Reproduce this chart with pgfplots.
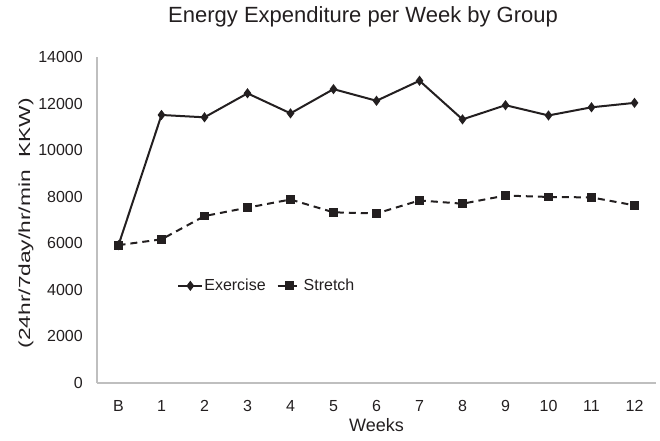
\documentclass[border=0pt]{standalone}
\usepackage{pgfplots}
\pgfplotsset{compat=1.18}
\usepackage{fontspec}
\setmainfont{Liberation Sans}
\newfontfamily\ylabfont[FakeStretch=1.42]{Liberation Sans}
\definecolor{ink}{RGB}{35,31,32}
\begin{document}
\begin{tikzpicture}
\begin{axis}[
  scale only axis,
  width=559pt, height=326pt,
  xmin=-0.5, xmax=12.5,
  ymin=0, ymax=14000,
  xtick={0,...,12},
  xticklabels={B,1,2,3,4,5,6,7,8,9,10,11,12},
  ytick={0,2000,...,14000},
  scaled y ticks=false,
  axis x line*=bottom, axis y line*=left,
  axis line style={draw=black!25, line width=1.2pt, -},
  major tick length=0pt,
  tick style={draw=none},
  /pgf/number format/assume math mode=true,
  /pgf/number format/1000 sep={},
  ticklabel style={font=\fontsize{16}{18}\selectfont, text=ink, inner sep=0pt},
  yticklabel style={anchor=east, xshift=-14pt},
  xticklabel style={anchor=center, yshift=-23pt},
  xlabel={Weeks},
  xlabel style={font=\fontsize{18}{20}\selectfont, text=ink, at={(axis description cs:0.5,0)}, anchor=center, yshift=-42pt},
  ylabel={(24hr/7day/hr/min\ \ KKW)},
  ylabel style={font=\ylabfont\fontsize{16}{18}\selectfont, text=ink, at={(axis description cs:0,0.49)}, anchor=center, yshift=71pt},
  title={Energy Expenditure per Week by Group},
  title style={font=\fontsize{22}{24}\selectfont, text=ink, at={(axis description cs:0.476,1)}, anchor=center, yshift=34pt},
  legend style={draw=none, fill=none, at={(0.303,0.298)}, anchor=center,
    legend columns=2, font=\fontsize{16}{18}\selectfont, text=ink,
    /tikz/every odd column/.append style={column sep=0pt},
    /tikz/every even column/.append style={column sep=10pt},
    nodes={inner sep=1pt}},
  legend image code/.code={
    \draw[#1, mark repeat=2, mark phase=2] plot coordinates {(0pt,0pt) (12pt,0pt) (24pt,0pt)};},
  clip=false,
]
\coordinate (bl) at (rel axis cs:0,0);
\addplot[ink, line width=2pt, mark=diamond*, mark size=3.5pt, mark options={solid}]
coordinates {(0,5920) (1,11510) (2,11410) (3,12440) (4,11580) (5,12620) (6,12120) (7,12980) (8,11320) (9,11930) (10,11490) (11,11840) (12,12030)};
\addlegendentry{Exercise}
\addplot[ink, line width=2pt, dash pattern=on 7pt off 5pt, mark=square*, mark size=3.4pt, mark options={solid}]
coordinates {(0,5920) (1,6170) (2,7170) (3,7530) (4,7880) (5,7330) (6,7280) (7,7840) (8,7700) (9,8050) (10,7990) (11,7970) (12,7630)};
\addlegendentry{Stretch}
\end{axis}
\pgfresetboundingbox
\path[use as bounding box] (bl) ++(-97pt,-57pt) rectangle ++(660pt,440pt);
\end{tikzpicture}
\end{document}
